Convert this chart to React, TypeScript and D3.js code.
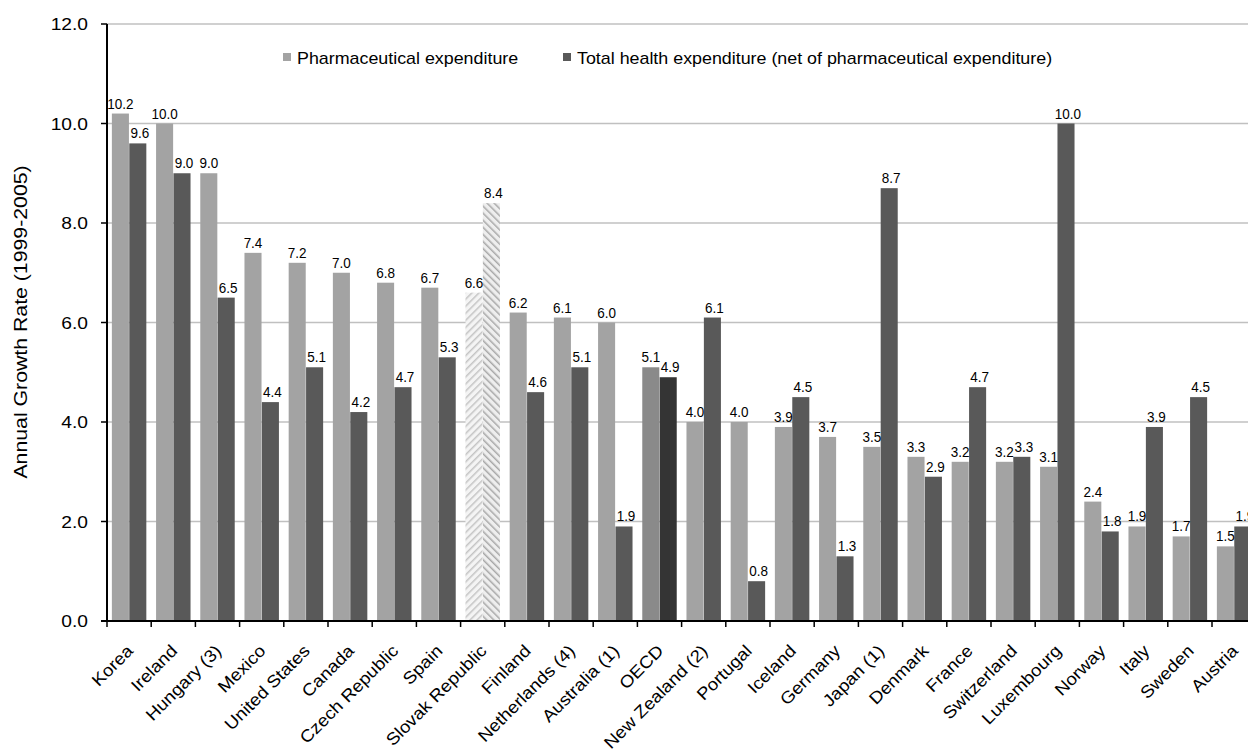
import React from "react";
import * as d3 from "d3";

const categories = [
  "Korea", "Ireland", "Hungary (3)", "Mexico", "United States", "Canada",
  "Czech Republic", "Spain", "Slovak Republic", "Finland", "Netherlands (4)",
  "Australia (1)", "OECD", "New Zealand (2)", "Portugal", "Iceland", "Germany",
  "Japan (1)", "Denmark", "France", "Switzerland", "Luxembourg", "Norway",
  "Italy", "Sweden", "Austria",
];
const pharmaValues = [
  10.2, 10.0, 9.0, 7.4, 7.2, 7.0, 6.8, 6.7, 6.6, 6.2, 6.1, 6.0, 5.1, 4.0, 4.0,
  3.9, 3.7, 3.5, 3.3, 3.2, 3.2, 3.1, 2.4, 1.9, 1.7, 1.5,
];
const totalValues = [
  9.6, 9.0, 6.5, 4.4, 5.1, 4.2, 4.7, 5.3, 8.4, 4.6, 5.1, 1.9, 4.9, 6.1, 0.8,
  4.5, 1.3, 8.7, 2.9, 4.7, 3.3, 10.0, 1.8, 3.9, 4.5, 1.9,
];
const seriesNames = [
  "Pharmaceutical expenditure",
  "Total health expenditure (net of pharmaceutical expenditure)",
];
const yTicks = [0, 2, 4, 6, 8, 10, 12];
const yTitle = "Annual Growth Rate (1999-2005)";

const W = 1248;
const H = 751;
const FONT = "'Liberation Sans', Arial, sans-serif";

const x = d3.scaleBand<string>().domain(categories).range([107, 107 + 26 * 44.2]);
const xi = d3.scaleBand<string>().domain(["p", "t"]).range([0, x.bandwidth()]).paddingInner(0.02).paddingOuter(0.28);
const y = d3.scaleLinear().domain([0, 12]).range([621, 24]);

function T({ x, y, rot = 0, sx = 1, size, anchor = "middle", children, fill = "#000" }: any) {
  return (
    <text
      transform={`translate(${x},${y}) rotate(${rot}) scale(${sx},1)`}
      fontSize={size}
      fontFamily={FONT}
      textAnchor={anchor}
      fill={fill}
    >
      {children}
    </text>
  );
}

export default function App() {
  const x0 = 107;
  const y0 = y(0);
  const fillFor = (c: string, s: "p" | "t") => {
    if (c === "Slovak Republic") return s === "p" ? "url(#hatchP)" : "url(#hatchT)";
    if (c === "OECD") return s === "p" ? "#8a8a8a" : "#343434";
    return s === "p" ? "#a3a3a3" : "#595959";
  };
  return (
    <svg width={W} height={H} style={{ position: "absolute", left: 0, top: 0, background: "#fff" }}>
      <defs>
        <pattern id="hatchP" patternUnits="userSpaceOnUse" width={5} height={5} patternTransform="rotate(45)">
          <rect width={5} height={5} fill="#f4f4f4" />
          <line x1={0} y1={0} x2={0} y2={5} stroke="#c4c4c4" strokeWidth={3} />
        </pattern>
        <pattern id="hatchT" patternUnits="userSpaceOnUse" width={5} height={5} patternTransform="rotate(-45)">
          <rect width={5} height={5} fill="#eeeeee" />
          <line x1={0} y1={0} x2={0} y2={5} stroke="#a8a8a8" strokeWidth={3} />
        </pattern>
      </defs>
      <rect width={W} height={H} fill="#fff" />
      {/* gridlines */}
      {yTicks.filter((t) => t > 0).map((t) => (
        <line key={t} x1={x0} x2={W} y1={y(t)} y2={y(t)} stroke="#c0c0c0" strokeWidth={1.5} />
      ))}
      {/* bars */}
      {categories.map((c, i) => {
        const bx = x(c)!;
        return (
          <g key={c}>
            <rect x={bx + xi("p")!} width={xi.bandwidth()} y={y(pharmaValues[i])} height={y0 - y(pharmaValues[i])} fill={fillFor(c, "p")} />
            <rect x={bx + xi("t")!} width={xi.bandwidth()} y={y(totalValues[i])} height={y0 - y(totalValues[i])} fill={fillFor(c, "t")} />
            <T x={bx + xi("p")! + xi.bandwidth() / 2} y={y(pharmaValues[i]) - 5} size={15} sx={0.9}>
              {pharmaValues[i].toFixed(1)}
            </T>
            <T x={bx + xi("t")! + xi.bandwidth() / 2 + 2} y={y(totalValues[i]) - 5} size={15} sx={0.9}>
              {totalValues[i].toFixed(1)}
            </T>
          </g>
        );
      })}
      {/* axes */}
      <line x1={x0} x2={x0} y1={y(12)} y2={y0} stroke="#000" strokeWidth={2} />
      <line x1={x0 - 6} x2={W} y1={y0} y2={y0} stroke="#000" strokeWidth={2} />
      {yTicks.map((t) => (
        <g key={t}>
          <line x1={x0 - 6} x2={x0} y1={y(t)} y2={y(t)} stroke="#000" strokeWidth={1.5} />
          <T x={88} y={y(t) + 6} size={16} sx={1.2} anchor="end">
            {t.toFixed(1)}
          </T>
        </g>
      ))}
      {categories.map((c) => (
        <line key={c} x1={x(c)!} x2={x(c)!} y1={y0} y2={y0 + 6} stroke="#000" strokeWidth={1.5} />
      ))}
      {categories.map((c) => (
        <T key={c} x={x(c)! + x.bandwidth() / 2 + 5} y={652} rot={-45} size={17} sx={1.1} anchor="end">
          {c}
        </T>
      ))}
      <T x={27} y={322} rot={-90} size={19} sx={1.12}>
        {yTitle}
      </T>
      {/* legend */}
      <rect x={283} y={53} width={8} height={8} fill="#a3a3a3" />
      <T x={297} y={64} size={17} sx={1.05} anchor="start">{seriesNames[0]}</T>
      <rect x={563} y={53} width={8} height={8} fill="#595959" />
      <T x={577} y={64} size={17} sx={1.05} anchor="start">{seriesNames[1]}</T>
    </svg>
  );
}
